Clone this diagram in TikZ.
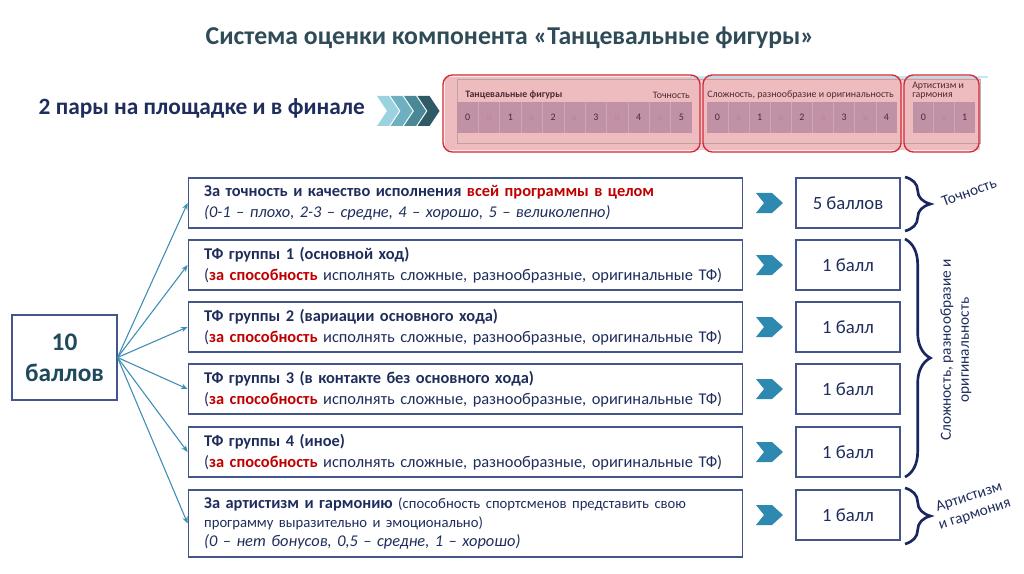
\documentclass[tikz,border=0pt]{standalone}
\usepackage{fontspec}
\setmainfont{Carlito}
\usetikzlibrary{arrows.meta,decorations.pathreplacing}
\definecolor{navy}{HTML}{1F2D5C}
\definecolor{kred}{HTML}{C00000}
\definecolor{boxline}{HTML}{44558A}
\definecolor{arrblue}{HTML}{3A8DB4}
\definecolor{chevblue}{HTML}{2E89B0}
\definecolor{titlecol}{HTML}{2F4B57}
\definecolor{totalcol}{HTML}{1E4A5C}
\definecolor{bracecol}{HTML}{1A2660}
\definecolor{pinkbg}{HTML}{EDCBD0}
\definecolor{cellcol}{HTML}{BC9FB4}
\definecolor{cellsep}{HTML}{CDB4C5}
\definecolor{paneltext}{HTML}{3E2E38}
\definecolor{panelred}{HTML}{D52A35}
\definecolor{chevA}{HTML}{9AD3DF}
\definecolor{chevB}{HTML}{6FB0C0}
\definecolor{chevC}{HTML}{4A8896}
\definecolor{chevD}{HTML}{2E5965}
\begin{document}
\begin{tikzpicture}[x=0.75pt,y=-0.75pt,
    total/.style={draw=boxline,line width=0.8pt,minimum width=78.75pt,minimum height=63.75pt,align=center,
      font=\fontsize{19}{23}\selectfont\bfseries,text=totalcol},
    crit/.style={draw=boxline,line width=0.8pt,minimum height=37.5pt,text width=392pt,inner xsep=12pt,
      align=left,font=\fontsize{12.3}{15.5}\selectfont,text=navy},
    pts/.style={draw=boxline,line width=0.8pt,minimum width=78pt,minimum height=37.5pt,
      font=\fontsize{14}{16}\selectfont,text=navy},
    arr/.style={arrblue,line width=0.8pt,-{Stealth[length=5pt,width=4pt]}},
    panel/.style={draw=panelred,line width=1pt,fill=red,fill opacity=0.08,text opacity=1,rounded corners=7pt},
    num/.style={font=\fontsize{7.5}{8}\selectfont,text=paneltext,inner sep=0pt},
    half/.style={font=\fontsize{5}{6}\selectfont,text=cellsep!70!paneltext,inner sep=0pt},
    ptitle/.style={font=\fontsize{7.4}{8}\selectfont,text=paneltext,inner sep=0pt},
    brace/.style={decorate,decoration={brace,amplitude=19pt},bracecol,line width=2pt},
    blabel/.style={font=\fontsize{11.5}{13.5}\selectfont,text=navy,align=center}]
\useasboundingbox (0,0) rectangle (1024,574);

% title
\node[font=\fontsize{19.3}{22}\selectfont\bfseries,text=titlecol] (title) at (510,38)
  {Система оценки компонента «Танцевальные фигуры»};
\node[anchor=west,font=\fontsize{17.5}{20}\selectfont\bfseries,text=navy] (pairs) at (34,108)
  {2 пары на площадке и в финале};

% chevrons
\foreach \c [count=\i from 0] in {chevA,chevB,chevC,chevD}
  \fill[\c] (377+13.5*\i,96) -- ++(12,0) -- ++(10,15) -- ++(-10,15) -- ++(-12,0) -- ++(10,-15) -- cycle;

% scoring sheet
\fill[pinkbg] (445,77) rectangle (980,150);
\draw[cyan!25,line width=1pt] (690,77) -- (988,77);
\draw[gray!60,line width=0.6pt] (457,79) rectangle (980,143);
\fill[cellcol] (457,102) rectangle (692,133);
\fill[cellcol] (707,102) rectangle (897,133);
\fill[cellcol] (913,102) rectangle (975,133);
\foreach \k in {1,...,10} \draw[cellsep] (457+21.36*\k,102) -- ++(0,31);
\foreach \k in {1,...,8} \draw[cellsep] (707+21.1*\k,102) -- ++(0,31);
\foreach \k in {1,2} \draw[cellsep] (913+20.67*\k,102) -- ++(0,31);
\foreach \n in {0,...,5} \node[num] (a\n) at (467.7+42.72*\n,117.5) {\n};
\foreach \n in {0,...,4} \node[half] (ah\n) at (489+42.72*\n,118) {½};
\foreach \n in {0,...,4} \node[num] (b\n) at (717.5+42.2*\n,117.5) {\n};
\foreach \n in {0,...,3} \node[half] (bh\n) at (738.7+42.2*\n,118) {½};
\node[num] (c0) at (923.3,117.5) {0};
\node[half] (ch0) at (944,118) {½};
\node[num] (c1n) at (964.7,117.5) {1};
\node[ptitle,anchor=west] (ttl1) at (465,95) {\bfseries Танцевальные фигуры};
\node[ptitle,anchor=east] (ttl2) at (690,95) {Точность};
\node[ptitle,anchor=west] (ttl3) at (707,95) {Сложность, разнообразие и оригинальность};
\node[ptitle,anchor=north west,align=left] (ttl4) at (912,82) {Артистизм и\\[-1pt]гармония};
\draw[panel] (443,75) rectangle (700,152);
\draw[panel] (703,75) rectangle (901,152);
\draw[panel] (904,75) rectangle (979,152);

% criteria
\node[total] (total) at (64.5,357.5) {10\\баллов};
\node[crit] (c1) at (465.5,203)
  {\textbf{За точность и качество исполнения \textcolor{kred}{всей программы в целом}}\\
   \textit{(0-1 – плохо, 2-3 – средне, 4 – хорошо, 5 – великолепно)}};
\node[crit] (c2) at (465.5,265)
  {\textbf{ТФ группы 1 (основной ход)}\\
   \mbox{(\textbf{\textcolor{kred}{за способность}} исполнять сложные, разнообразные, оригинальные ТФ)}};
\node[crit] (c3) at (465.5,327)
  {\textbf{ТФ группы 2 (вариации основного хода)}\\
   \mbox{(\textbf{\textcolor{kred}{за способность}} исполнять сложные, разнообразные, оригинальные ТФ)}};
\node[crit] (c4) at (465.5,389)
  {\textbf{ТФ группы 3 (в контакте без основного хода)}\\
   \mbox{(\textbf{\textcolor{kred}{за способность}} исполнять сложные, разнообразные, оригинальные ТФ)}};
\node[crit] (c5) at (465.5,452)
  {\textbf{ТФ группы 4 (иное)}\\
   \mbox{(\textbf{\textcolor{kred}{за способность}} исполнять сложные, разнообразные, оригинальные ТФ)}};
\node[crit,minimum height=50.25pt,font=\fontsize{12.3}{14}\selectfont] (c6) at (465.5,523.5)
  {\mbox{\textbf{За артистизм и гармонию} {\fontsize{11}{14}\selectfont(способность спортсменов представить свою}}\\
   {\fontsize{11}{14}\selectfont программу выразительно и эмоционально)}\\
   \textit{(0 – нет бонусов, 0,5 – средне, 1 – хорошо)}};
\foreach \i in {1,...,6} \draw[arr] (total.east) -- (c\i.west);

% points
\node[pts] (p1) at (848,203) {5 баллов};
\node[pts] (p2) at (848,265) {1 балл};
\node[pts] (p3) at (848,327) {1 балл};
\node[pts] (p4) at (848,389) {1 балл};
\node[pts] (p5) at (848,452) {1 балл};
\node[pts] (p6) at (848,515) {1 балл};
\foreach \y in {203,265,327,389,452,515}
  \fill[chevblue] (756,\y-10) -- ++(16,0) -- ++(11,10) -- ++(-11,10) -- ++(-16,0) -- ++(8,-10) -- cycle;

% braces
\draw[brace] (905,177) -- (905,231);
\draw[brace] (905,239) -- (905,477);
\draw[brace] (905,488) -- (905,544);
\node[blabel,rotate=20] (acc) at (969,192) {Точность};
\node[blabel,rotate=90] (cmp) at (956,350) {Сложность, разнообразие и\\оригинальность};
\node[blabel,rotate=18] (art) at (972,506) {Артистизм\\и гармония};
\end{tikzpicture}
\end{document}
